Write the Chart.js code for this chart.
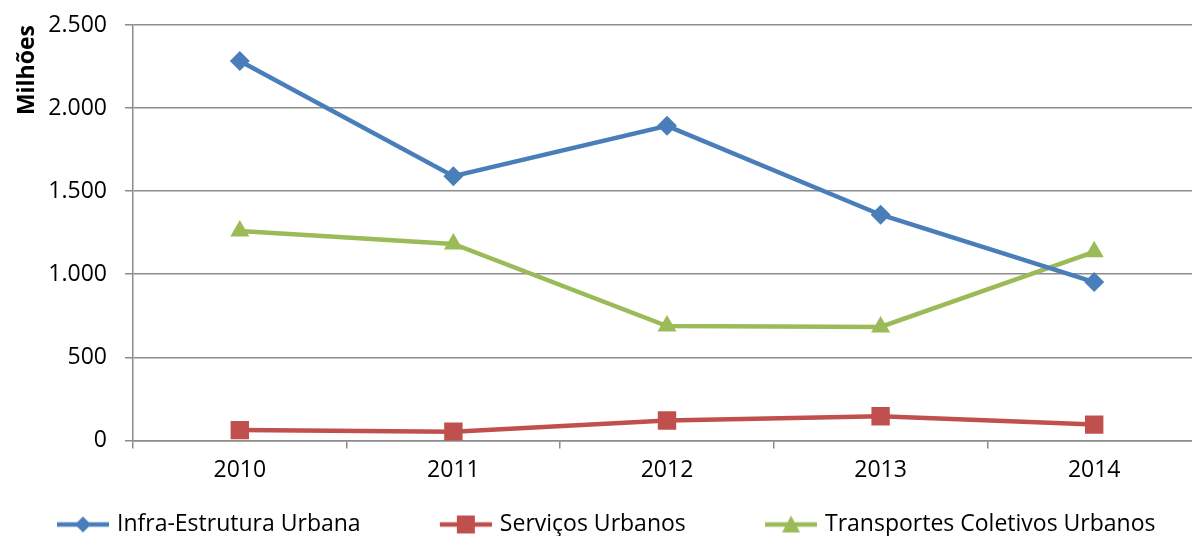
<!DOCTYPE html>
<html lang="pt-BR">
<head>
  <meta charset="UTF-8">
  <title>Milhões por programa</title>
  <script src="https://cdn.jsdelivr.net/npm/chart.js"></script>
  <style>
    * { box-sizing: border-box; margin: 0; padding: 0; }
    body { background: #fff; overflow: hidden; }
    .wrap { position: relative; width: 1201px; height: 546px; }
  </style>
</head>
<body>
<div class="wrap"><canvas id="chart"></canvas></div>
<script>
  const years = ['2010', '2011', '2012', '2013', '2014'];
  const infraEstrutura = [2283, 1590, 1893, 1358, 953];
  const servicosUrbanos = [62, 52, 120, 145, 95];
  const transportesColetivos = [1260, 1182, 688, 683, 1135];
  const yMax = 2500;
  const yStep = 500;

  const BLUE = '#4a7ebb';
  const RED = '#c0504d';
  const GREEN = '#9bbb59';
  const GRID = '#8c8c8c';
  const FONT = "'Open Sans', 'Liberation Sans', sans-serif";
  const FS = 23;

  // legend icon: short line with the marker in the middle
  const LINE = 52;
  function legendIcon(color, shape) {
    const c = document.createElement('canvas');
    c.width = LINE + 7;
    c.height = 24;
    const g = c.getContext('2d');
    g.strokeStyle = color;
    g.fillStyle = color;
    g.lineWidth = 4.5;
    g.beginPath();
    g.moveTo(7, 12);
    g.lineTo(c.width, 12);
    g.stroke();
    const cx = 7 + LINE / 2, cy = 12;
    g.beginPath();
    if (shape === 'diamond') {
      g.moveTo(cx - 8, cy); g.lineTo(cx, cy - 8); g.lineTo(cx + 8, cy); g.lineTo(cx, cy + 8);
    } else if (shape === 'square') {
      g.rect(cx - 9, cy - 9, 18, 18);
    } else {
      g.moveTo(cx, cy - 9); g.lineTo(cx + 9, cy + 8); g.lineTo(cx - 9, cy + 8);
    }
    g.closePath();
    g.fill();
    return c;
  }
  const icons = [legendIcon(BLUE, 'diamond'), legendIcon(RED, 'square'), legendIcon(GREEN, 'triangle')];
  const SPACER = '\u00a0'.repeat(11);

  function fmt(v) {
    return v.toString().replace(/\B(?=(\d{3})+(?!\d))/g, '.');
  }

  const ctx = document.getElementById('chart').getContext('2d');
  new Chart(ctx, {
    type: 'line',
    data: {
      labels: years,
      datasets: [
        { label: 'Infra-Estrutura Urbana', data: infraEstrutura, borderColor: BLUE, backgroundColor: BLUE,
          pointStyle: 'rectRot', pointRadius: 10, pointBorderWidth: 0 },
        { label: 'Serviços Urbanos', data: servicosUrbanos, borderColor: RED, backgroundColor: RED,
          pointStyle: 'rect', pointRadius: 13, pointBorderWidth: 0 },
        { label: 'Transportes Coletivos Urbanos', data: transportesColetivos, borderColor: GREEN, backgroundColor: GREEN,
          pointStyle: 'triangle', pointRadius: 11, pointBorderWidth: 0 }
      ]
    },
    options: {
      responsive: true,
      maintainAspectRatio: false,
      animation: false,
      elements: { line: { borderWidth: 4.5, tension: 0 } },
      layout: { autoPadding: false, padding: { left: 8, right: 0, top: 25, bottom: 0 } },
      plugins: {
        tooltip: { enabled: false },
        legend: {
          position: 'bottom',
          labels: {
            usePointStyle: true,
            pointStyleWidth: LINE,
            padding: 10,
            color: '#000',
            font: { family: FONT, size: FS },
            generateLabels(chart) {
              const items = Chart.defaults.plugins.legend.labels.generateLabels(chart);
              return items.map((it, i) => Object.assign(it, {
                text: i < items.length - 1 ? it.text + SPACER : it.text,
                pointStyle: icons[i]
              }));
            }
          }
        }
      },
      scales: {
        x: {
          offset: true,
          grid: { offset: true, drawOnChartArea: false, drawTicks: true, tickLength: 8, color: GRID, lineWidth: 1.5 },
          border: { display: true, color: GRID, width: 1.5 },
          ticks: { color: '#000', padding: 8, font: { family: FONT, size: FS } },
          afterFit(scale) { scale.height += 11; }
        },
        y: {
          min: 0,
          max: yMax,
          grid: { color: GRID, lineWidth: 1.5, tickLength: 8 },
          border: { display: true, color: GRID, width: 1.5 },
          ticks: { stepSize: yStep, color: '#000', padding: 18, font: { family: FONT, size: FS },
                   callback: v => fmt(v) },
          title: { display: true, text: 'Milhões', align: 'end', color: '#000',
                   font: { family: FONT, size: FS, weight: 'bold' }, padding: { top: 6, bottom: 0 } },
          afterFit(scale) { scale.width = 125; scale.paddingTop = 0; }
        }
      }
    }
  });
</script>
</body>
</html>
